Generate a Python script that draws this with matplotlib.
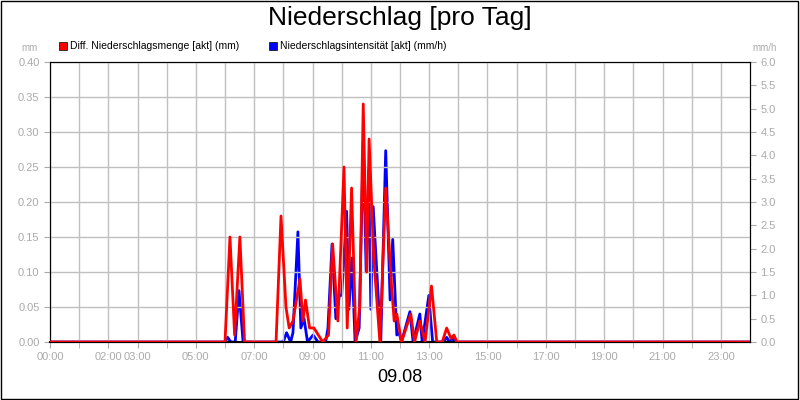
import matplotlib
matplotlib.use('Agg')
import matplotlib.pyplot as plt
from matplotlib.patches import Rectangle

plt.rcParams['font.family'] = ['Liberation Sans', 'DejaVu Sans']

# red: Diff. Niederschlagsmenge (mm), time in hours
red_t = [0, 6.0, 6.17, 6.33, 6.51, 6.67, 7.75, 7.92, 8.09, 8.2, 8.33, 8.57, 8.67, 8.76, 8.9, 9.05,
         9.35, 9.55, 9.69, 9.87, 10.08, 10.19, 10.34, 10.49, 10.62, 10.74, 10.86, 10.94, 11.1, 11.31,
         11.51, 11.71, 11.8, 11.89, 12.05, 12.37, 12.5, 12.68, 12.86, 13.08, 13.26, 13.45, 13.6,
         13.75, 13.85, 13.95, 24]
red_v = [0, 0.0, 0.15, 0.01, 0.15, 0.0, 0.0, 0.18, 0.05, 0.02, 0.03, 0.09, 0.03, 0.06, 0.02, 0.02,
         0.0, 0.01, 0.14, 0.03, 0.25, 0.02, 0.22, 0.0, 0.05, 0.34, 0.1, 0.29, 0.12, 0.0,
         0.22, 0.08, 0.03, 0.04, 0.0, 0.04, 0.0, 0.03, 0.0, 0.08, 0.0, 0.0, 0.02,
         0.005, 0.01, 0.0, 0]
# blue: Niederschlagsintensität (mm/h)
blue_t = [0, 6.0, 6.09, 6.2, 6.35, 6.48, 6.62, 8.0, 8.11, 8.25, 8.33, 8.5, 8.6, 8.71, 8.83, 9.02,
          9.19, 9.45, 9.53, 9.67, 9.8, 9.92, 10.0, 10.17, 10.25, 10.35, 10.46, 10.6, 10.74, 10.84,
          10.93, 11.0, 11.08, 11.34, 11.51, 11.66, 11.75, 11.89, 11.97, 12.05, 12.34, 12.45, 12.68,
          12.76, 12.99, 13.05, 13.12, 13.5, 13.6, 13.7, 13.82, 13.9, 24]
blue_v = [0, 0.0, 0.1, 0.0, 0.0, 1.1, 0.0, 0.0, 0.2, 0.0, 0.2, 2.36, 0.3, 0.5, 0.0, 0.15,
          0.0, 0.0, 0.3, 2.1, 0.5, 1.0, 1.0, 2.8, 0.7, 1.8, 0.0, 0.3, 4.3, 1.5,
          3.7, 0.7, 2.9, 0.0, 4.1, 0.9, 2.2, 0.15, 0.2, 0.0, 0.65, 0.0, 0.6,
          0.0, 1.0, 0.5, 0.0, 0.0, 0.1, 0.0, 0.08, 0.0, 0]

tick_hours = [0, 2, 3, 5, 7, 9, 11, 13, 15, 17, 19, 21, 23]
grid_hours = list(range(1, 24))
grey = '#aaaaaa'

fig = plt.figure(figsize=(8, 4), dpi=100)
ax = fig.add_axes([50/800, 58/400, 700/800, 280/400])
ax2 = ax.twinx()

ax.plot(red_t, red_v, color='#ff0000', lw=2, zorder=3)
ax2.plot(blue_t, blue_v, color='#0000ff', lw=2, zorder=2)
ax.set_zorder(ax2.get_zorder() + 1)
ax.patch.set_visible(False)

ax.set_xlim(0, 24)
ax.set_ylim(0, 0.4)
ax2.set_ylim(0, 6)
ax.set_yticks([i * 0.05 for i in range(9)])
ax.set_yticklabels([f'{i * 0.05:.2f}' for i in range(9)])
ax2.set_yticks([i * 0.5 for i in range(13)])
ax2.set_yticklabels([f'{i * 0.5:.1f}' for i in range(13)])
ax.set_xticks(tick_hours)
ax.set_xticklabels([f'{h:02d}:00' for h in tick_hours])
ax.set_xticks(grid_hours, minor=True)
ax.grid(True, which='both', axis='x', color='#c0c0c0', lw=1)
ax.grid(True, axis='y', color='#c0c0c0', lw=1)
for a in (ax, ax2):
    a.tick_params(which='both', labelsize=8, labelcolor=grey, color=grey, length=4)
    for s in a.spines.values():
        s.set_color('black')
ax.spines['bottom'].set_linewidth(1.5)

fig.text(30/800, 1 - 48/400, 'mm', fontsize=7, color=grey, ha='center', va='center')
fig.text(765/800, 1 - 48/400, 'mm/h', fontsize=7, color=grey, ha='center', va='center')
fig.text(0.5, 1 - 18/400, 'Niederschlag [pro Tag]', fontsize=19, ha='center', va='center')
fig.text(0.5, 1 - 378/400, '09.08', fontsize=13, ha='center', va='center')

fig.patches.append(Rectangle((59/800, 1 - 50/400), 8/800, 8/400, transform=fig.transFigure,
                             facecolor='#ff0000', edgecolor='black', lw=0.5))
fig.text(70/800, 1 - 46/400, 'Diff. Niederschlagsmenge [akt] (mm)', fontsize=7.5, va='center')
fig.patches.append(Rectangle((269/800, 1 - 50/400), 8/800, 8/400, transform=fig.transFigure,
                             facecolor='#0000ff', edgecolor='black', lw=0.5))
fig.text(280/800, 1 - 46/400, 'Niederschlagsintensität [akt] (mm/h)', fontsize=7.5, va='center')

fig.patches.append(Rectangle((0.001, 0.002), 0.997, 0.995, transform=fig.transFigure,
                             fill=False, edgecolor='black', lw=1))

fig.savefig('out.png', dpi=100)
